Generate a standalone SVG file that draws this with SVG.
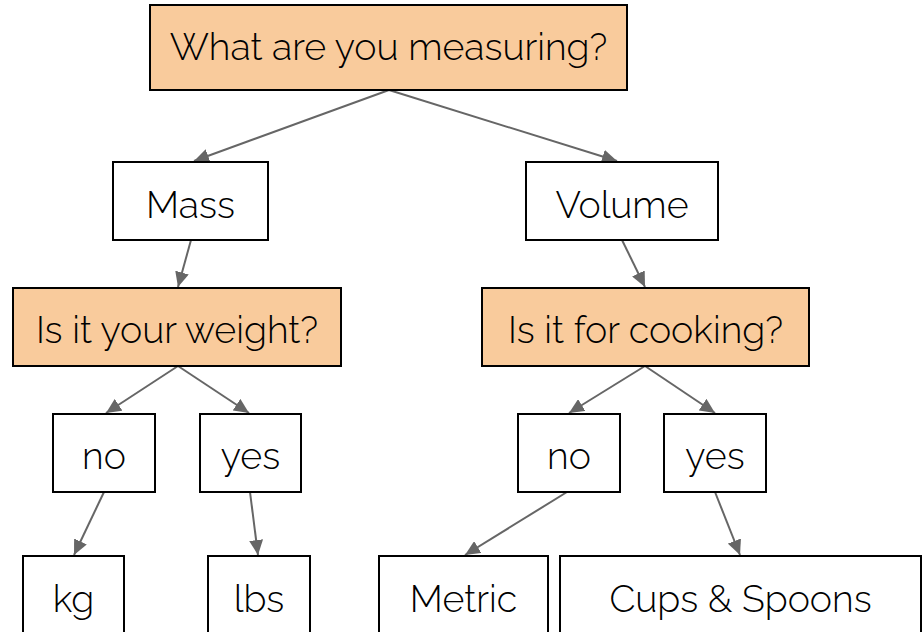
<svg xmlns="http://www.w3.org/2000/svg" width="922" height="632" viewBox="0 0 922 632">
<style>
.box{fill:#ffffff;stroke:#000000;stroke-width:2}
.q{fill:#f9cb9c;stroke:#000000;stroke-width:2}
text{font-family:"Raleway","Lato","Liberation Sans",sans-serif;font-weight:300;font-size:37.5px;fill:#000000;text-anchor:middle}
.edge{stroke:#666666;stroke-width:2;fill:none;marker-end:url(#arr)}
</style>
<defs>
<marker id="arr" viewBox="0 0 10 10" refX="10" refY="5" markerWidth="15" markerHeight="14" markerUnits="userSpaceOnUse" orient="auto" preserveAspectRatio="none">
<path d="M0,0 L10,5 L0,10 z" fill="#666666"/>
</marker>
</defs>
<rect width="922" height="632" fill="#ffffff"/>
<g id="connectors">
<line class="edge" x1="389" y1="90" x2="194" y2="161"/>
<line class="edge" x1="389" y1="90" x2="617" y2="161"/>
<line class="edge" x1="191" y1="240" x2="178" y2="287"/>
<line class="edge" x1="622" y1="240" x2="645" y2="287"/>
<line class="edge" x1="178" y1="366" x2="106" y2="413"/>
<line class="edge" x1="178" y1="366" x2="249" y2="413"/>
<line class="edge" x1="645" y1="366" x2="569" y2="413"/>
<line class="edge" x1="645" y1="366" x2="715" y2="413"/>
<line class="edge" x1="104" y1="492" x2="74" y2="555"/>
<line class="edge" x1="250" y1="492" x2="258" y2="555"/>
<line class="edge" x1="567" y1="492" x2="465" y2="555"/>
<line class="edge" x1="715" y1="492" x2="740" y2="555"/>
</g>
<g id="n-root"><rect class="q" x="150" y="5" width="477" height="85"/><text x="388.5" y="60">What are you measuring?</text></g>
<g id="n-mass"><rect class="box" x="113" y="162" width="155" height="78"/><text x="190.5" y="218">Mass</text></g>
<g id="n-volume"><rect class="box" x="526" y="162" width="192" height="78"/><text x="622" y="218">Volume</text></g>
<g id="n-weight"><rect class="q" x="13" y="288" width="328" height="78"/><text x="177" y="343">Is it your weight?</text></g>
<g id="n-cooking"><rect class="q" x="482" y="288" width="327" height="78"/><text x="645.5" y="343">Is it for cooking?</text></g>
<g id="n-no1"><rect class="box" x="53" y="414" width="102" height="78"/><text x="104" y="469">no</text></g>
<g id="n-yes1"><rect class="box" x="200" y="414" width="101" height="78"/><text x="250.5" y="469">yes</text></g>
<g id="n-no2"><rect class="box" x="518" y="414" width="102" height="78"/><text x="569" y="469">no</text></g>
<g id="n-yes2"><rect class="box" x="664" y="414" width="102" height="78"/><text x="715" y="469">yes</text></g>
<g id="n-kg"><rect class="box" x="23" y="556" width="101" height="90"/><text x="73.5" y="612">kg</text></g>
<g id="n-lbs"><rect class="box" x="208" y="556" width="102" height="90"/><text x="259" y="612">lbs</text></g>
<g id="n-metric"><rect class="box" x="379" y="556" width="169" height="90"/><text x="463.5" y="612">Metric</text></g>
<g id="n-cups"><rect class="box" x="560" y="556" width="361" height="90"/><text x="740.5" y="612">Cups &amp; Spoons</text></g>
</svg>
